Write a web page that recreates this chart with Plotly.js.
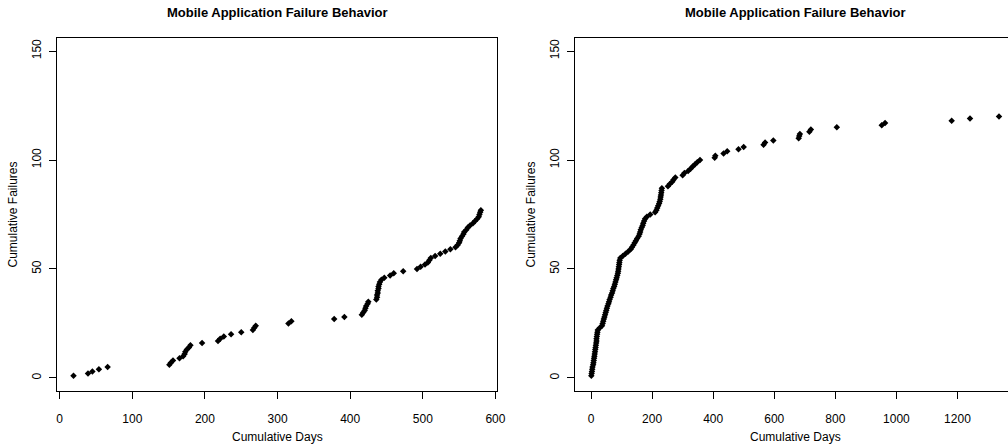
<!DOCTYPE html>
<html>
<head>
<meta charset="utf-8">
<script src="https://cdn.plot.ly/plotly-3.0.1.min.js"></script>
<style>
html, body { margin: 0; padding: 0; overflow: hidden; background: #ffffff; }
#chart { width: 1040px; height: 447px; }
</style>
</head>
<body>
<div id="chart"></div>
<script>
// Left panel data: cumulative days at each failure
const leftDays = [19,39,45,54,66,151,153,156,165,170,172,173,175,178,180,196,218,221,226,236,250,266,268,270,315,319,378,392,416,418,420,421,422,424,425,436,437,437,438,438,439,439,440,441,443,447,455,460,473,492,497,503,507,509,511,517,524,531,538,545,548,550,551,552,554,556,557,560,562,565,569,572,575,577,578,579,580];
const leftFailures = [1,2,3,4,5,6,7,8,9,10,11,12,13,14,15,16,17,18,19,20,21,22,23,24,25,26,27,28,29,30,31,32,33,34,35,36,37,38,39,40,41,42,43,44,45,46,47,48,49,50,51,52,53,54,55,56,57,58,59,60,61,62,63,64,65,66,67,68,69,70,71,72,73,74,75,76,77];

// Right panel data
const rightDays = [1,2,3,4,5,7,8,9,10,11,12,13,14,15,16,17,18,18,19,20,21,22,29,36,38,40,42,44,46,48,50,52,54,57,59,61,64,66,69,71,73,76,78,80,82,84,86,88,89,90,91,92,93,94,96,104,113,122,130,134,139,143,147,151,156,159,161,163,166,169,171,174,177,183,194,210,214,217,220,223,225,227,228,229,230,231,232,252,258,266,270,276,300,306,318,326,333,340,348,357,405,407,434,446,483,500,565,570,597,680,682,684,715,720,805,952,963,1181,1241,1336];
const rightFailures = [1,2,3,4,5,6,7,8,9,10,11,12,13,14,15,16,17,18,19,20,21,22,23,24,25,26,27,28,29,30,31,32,33,34,35,36,37,38,39,40,41,42,43,44,45,46,47,48,49,50,51,52,53,54,55,56,57,58,59,60,61,62,63,64,65,66,67,68,69,70,71,72,73,74,75,76,77,78,79,80,81,82,83,84,85,86,87,88,89,90,91,92,93,94,95,96,97,98,99,100,101,102,103,104,105,106,107,108,109,110,111,112,113,114,115,116,117,118,119,120];

// Tick labels
const leftXTicks = [0,100,200,300,400,500,600];
const rightXTicks = [0,200,400,600,800,1000,1200];
const yTicks = [0,50,100,150];

const plotTitle = "Mobile Application Failure Behavior";
const xTitle = "Cumulative Days";
const yTitle = "Cumulative Failures";

const W = 1040, H = 447;
const FONT = '"Liberation Sans", Arial, Helvetica, sans-serif';

const marker = { symbol: 'diamond', size: 5, color: '#000000', line: { width: 0 } };

const traces = [
  { x: leftDays, y: leftFailures, type: 'scatter', mode: 'markers', marker: marker, xaxis: 'x', yaxis: 'y', hoverinfo: 'x+y' },
  { x: rightDays, y: rightFailures, type: 'scatter', mode: 'markers', marker: marker, xaxis: 'x2', yaxis: 'y2', hoverinfo: 'x+y' }
];

function axisBase() {
  return {
    showline: true, mirror: true, linecolor: '#000000', linewidth: 1,
    showgrid: false, zeroline: false,
    ticks: 'outside', ticklen: 7, tickwidth: 1, tickcolor: '#000000',
    tickfont: { family: FONT, size: 12, color: '#000000' },
    tickmode: 'array', fixedrange: true
  };
}

const leftBox = [57.2, 497.2];
const rightBox = [575.0, 1015.3];
const yBox = [38, 391];

const xaxis = Object.assign(axisBase(), {
  domain: [leftBox[0] / W, leftBox[1] / W], range: [-3.44, 602.44],
  tickvals: leftXTicks, ticktext: leftXTicks.map(String), anchor: 'y', ticklabelstandoff: 10
});
const xaxis2 = Object.assign(axisBase(), {
  domain: [rightBox[0] / W, rightBox[1] / W], range: [-52.4, 1389.4],
  tickvals: rightXTicks, ticktext: rightXTicks.map(String), anchor: 'y2', ticklabelstandoff: 10
});
const yDomain = [(H - yBox[1]) / H, (H - yBox[0]) / H];
const yaxis = Object.assign(axisBase(), {
  domain: yDomain, range: [-6, 156], tickvals: yTicks, ticktext: yTicks.map(String),
  tickangle: -90, anchor: 'x', ticklabelstandoff: 3
});
const yaxis2 = Object.assign(axisBase(), {
  domain: yDomain, range: [-6, 156], tickvals: yTicks, ticktext: yTicks.map(String),
  tickangle: -90, anchor: 'x2', ticklabelstandoff: 3
});

function ann(text, xpx, ypx, opts) {
  return Object.assign({
    text: text, xref: 'paper', yref: 'paper', x: xpx / W, y: (H - ypx) / H,
    xanchor: 'center', yanchor: 'middle', showarrow: false,
    font: { family: FONT, size: 12, color: '#000000' }
  }, opts || {});
}

const leftCenter = (leftBox[0] + leftBox[1]) / 2;
const rightCenter = (rightBox[0] + rightBox[1]) / 2;
const yCenter = (yBox[0] + yBox[1]) / 2;

const annotations = [
  ann('<b>' + plotTitle + '</b>', leftCenter, 13, { font: { family: FONT, size: 13, color: '#000000' } }),
  ann('<b>' + plotTitle + '</b>', rightCenter, 13, { font: { family: FONT, size: 13, color: '#000000' } }),
  ann(xTitle, leftCenter, 437),
  ann(xTitle, rightCenter, 437),
  ann(yTitle, 12, yCenter, { textangle: -90 }),
  ann(yTitle, 530, yCenter, { textangle: -90 })
];

const layout = {
  width: W, height: H,
  margin: { l: 0, r: 0, t: 0, b: 0, pad: 0 },
  paper_bgcolor: '#ffffff', plot_bgcolor: '#ffffff',
  showlegend: false,
  font: { family: FONT, size: 12, color: '#000000' },
  xaxis: xaxis, yaxis: yaxis, xaxis2: xaxis2, yaxis2: yaxis2,
  annotations: annotations
};

Plotly.newPlot('chart', traces, layout, { displayModeBar: false, staticPlot: true });
</script>
</body>
</html>
